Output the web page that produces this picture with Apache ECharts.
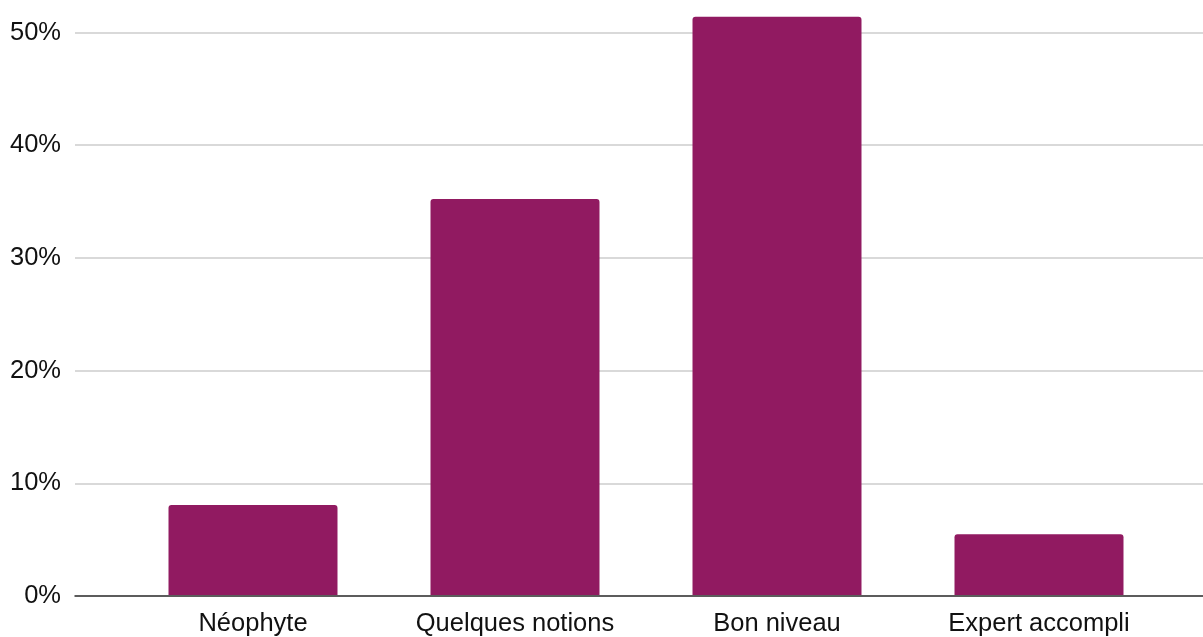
<!DOCTYPE html>
<html>
<head>
<meta charset="utf-8">
<script src="https://cdn.jsdelivr.net/npm/echarts@6/dist/echarts.min.js"></script>
<style>html,body{margin:0;padding:0;background:#fff}#c{width:1203px;height:637px}</style>
</head>
<body>
<div id="c"></div>
<script>
const categories = ['Néophyte', 'Quelques notions', 'Bon niveau', 'Expert accompli'];
const values = [8.0, 35.2, 51.4, 5.4];
const yTicks = [0, 10, 20, 30, 40, 50];

const chart = echarts.init(document.getElementById('c'), null, {renderer: 'canvas'});
const font = 'Liberation Sans, Arial, sans-serif';
chart.setOption({
  animation: false,
  grid: [
    {left: 75, right: 0, top: 32.5, bottom: 41},
    {left: 122, right: 33, top: 32.5, bottom: 41}
  ],
  xAxis: [
    {gridIndex: 0, type: 'category', data: [''], axisTick: {show: false}, axisLabel: {show: false},
     axisLine: {show: true, lineStyle: {color: '#333', width: 1.5}}, z: 5},
    {gridIndex: 1, type: 'category', data: categories, axisTick: {show: false},
     axisLine: {show: false},
     axisLabel: {color: '#111', fontSize: 25.5, fontFamily: font, margin: 16}}
  ],
  yAxis: [
    {gridIndex: 0, type: 'value', min: yTicks[0], max: yTicks[yTicks.length - 1], interval: 10,
     axisLine: {show: false}, axisTick: {show: false},
     axisLabel: {formatter: '{value}%', color: '#111', fontSize: 25.5, fontFamily: font, margin: 14},
     splitLine: {lineStyle: {color: '#cccccc', width: 1.5}}},
    {gridIndex: 1, type: 'value', min: yTicks[0], max: yTicks[yTicks.length - 1], show: false,
     splitLine: {show: false}}
  ],
  series: [{
    type: 'bar', xAxisIndex: 1, yAxisIndex: 1, data: values, clip: false,
    barWidth: '64.5%',
    itemStyle: {color: '#911a61', borderRadius: [3, 3, 0, 0]}
  }]
});
</script>
</body>
</html>
